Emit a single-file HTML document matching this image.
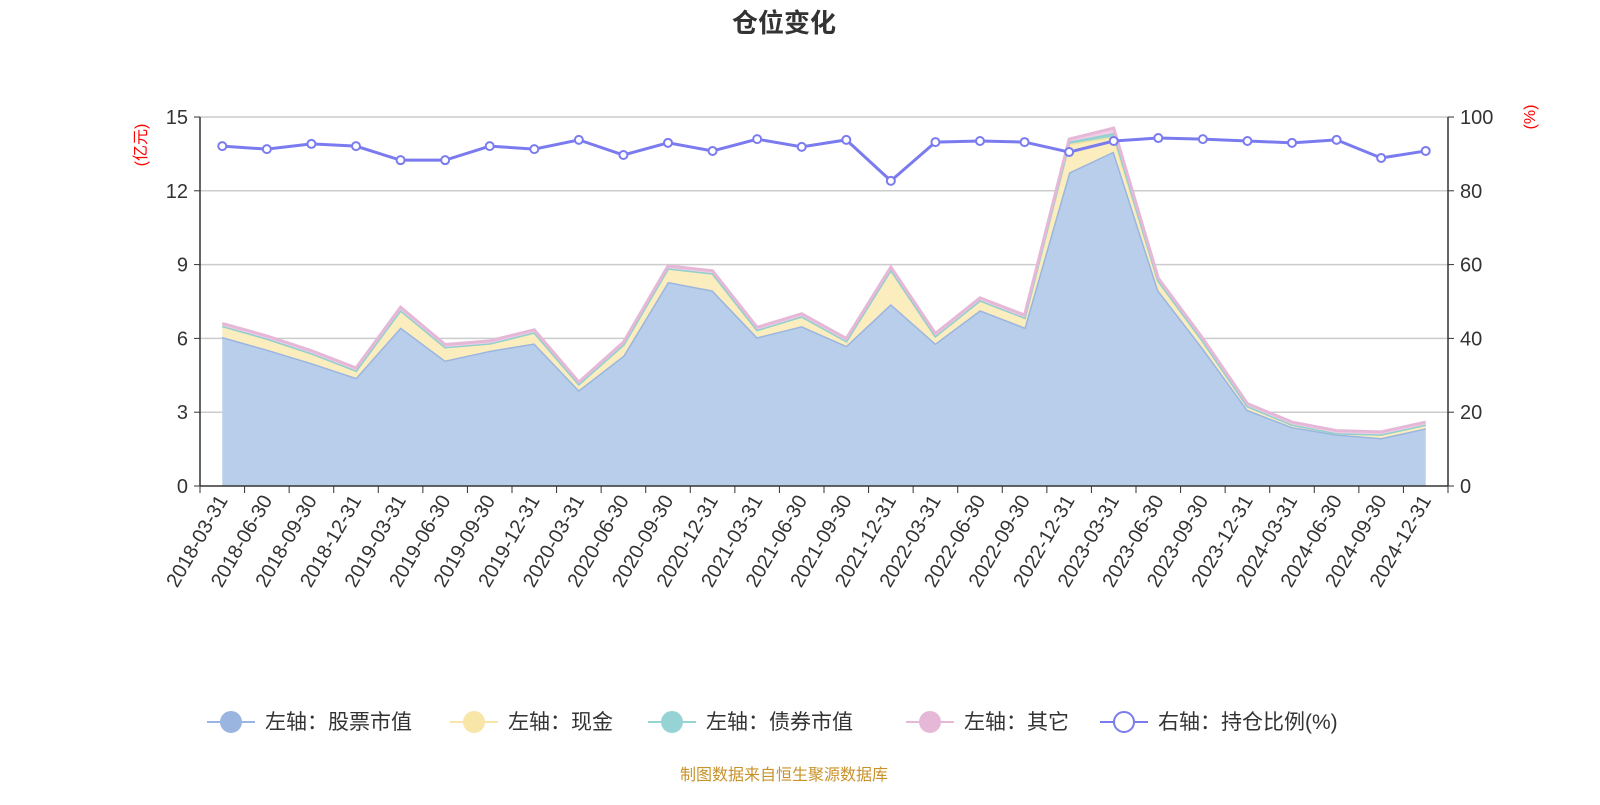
<!DOCTYPE html>
<html><head><meta charset="utf-8"><style>
body{margin:0;background:#fff;}
svg text{font-family:"Liberation Sans","Noto Sans CJK SC",sans-serif;}
</style></head><body>
<svg id="chart" width="1600" height="800" xmlns="http://www.w3.org/2000/svg">
<text x="784" y="32" text-anchor="middle" font-size="26" font-weight="bold" fill="#333">仓位变化</text>
<text transform="translate(146,145) rotate(-90)" text-anchor="middle" font-size="16" fill="red">(亿元)</text>
<text transform="translate(1535,117) rotate(-90)" text-anchor="middle" font-size="16" fill="red">(%)</text>
<g id="grid"></g><g id="areas"></g><g id="axes"></g><g id="ratio"></g>
<g id="legend" font-size="20" fill="#333"></g>
<text x="784" y="780" text-anchor="middle" font-size="16" fill="#c8922a">制图数据来自恒生聚源数据库</text>
</svg>
<script>
const categories=["2018-03-31","2018-06-30","2018-09-30","2018-12-31","2019-03-31","2019-06-30","2019-09-30","2019-12-31","2020-03-31","2020-06-30","2020-09-30","2020-12-31","2021-03-31","2021-06-30","2021-09-30","2021-12-31","2022-03-31","2022-06-30","2022-09-30","2022-12-31","2023-03-31","2023-06-30","2023-09-30","2023-12-31","2024-03-31","2024-06-30","2024-09-30","2024-12-31"];
const stockValues=[6.06,5.55,5.0,4.4,6.45,5.1,5.5,5.8,3.9,5.3,8.3,7.95,6.05,6.5,5.7,7.4,5.8,7.15,6.45,12.75,13.6,7.95,5.6,3.1,2.4,2.1,1.95,2.35];
const cashValues=[0.45,0.45,0.4,0.3,0.7,0.55,0.3,0.45,0.25,0.45,0.55,0.7,0.3,0.4,0.2,1.4,0.3,0.4,0.4,1.15,0.6,0.4,0.3,0.15,0.1,0.05,0.15,0.15];
const bondValues=[0,0,0,0,0,0,0,0,0,0,0,0,0,0,0,0,0,0,0,0.1,0.15,0,0,0,0,0,0,0];
const otherValues=[0.1,0.1,0.1,0.1,0.12,0.1,0.1,0.1,0.08,0.1,0.1,0.1,0.1,0.1,0.1,0.1,0.1,0.1,0.1,0.1,0.2,0.1,0.1,0.1,0.1,0.1,0.1,0.1];
const ratioValues=[92.1,91.3,92.7,92.1,88.3,88.3,92.1,91.3,93.8,89.7,93.0,90.8,94.0,91.9,93.8,82.7,93.2,93.5,93.2,90.5,93.5,94.3,94.0,93.5,93.0,93.8,88.9,90.8];
const leftTicks=[0,3,6,9,12,15];
const rightTicks=[0,20,40,60,80,100];
const NS="http://www.w3.org/2000/svg";
const X0=200,X1=1448,Y0=486,Y1=117;
const band=(X1-X0)/categories.length;
const xs=i=>X0+band*(i+0.5);
const yL=v=>Y0-(Y0-Y1)*v/15;
const yR=v=>Y0-(Y0-Y1)*v/100;
function mk(tag,attrs,parent){const e=document.createElementNS(NS,tag);for(const k in attrs)e.setAttribute(k,attrs[k]);parent.appendChild(e);return e;}
const grid=document.getElementById('grid'),axes=document.getElementById('axes'),areas=document.getElementById('areas'),ratio=document.getElementById('ratio'),legend=document.getElementById('legend');
leftTicks.forEach((t,i)=>{
  if(t>0){const g=mk('line',{x1:X0,x2:X1,y1:yL(t),y2:yL(t),stroke:'#ccc','stroke-width':1.5},grid);
  
  }
  const tl=mk('text',{x:X0-12,y:yL(t)+7,'text-anchor':'end','font-size':20,fill:'#333'},axes);tl.textContent=t;
  
  
  mk('line',{x1:X0-6,x2:X0,y1:yL(t),y2:yL(t),stroke:'#333'},axes);
});
rightTicks.forEach(t=>{
  const tl=mk('text',{x:X1+12,y:yR(t)+7,'font-size':20,fill:'#333'},axes);tl.textContent=t;
  
  
  mk('line',{x1:X1,x2:X1+6,y1:yR(t),y2:yR(t),stroke:'#333'},axes);
});
mk('line',{x1:X0,x2:X0,y1:Y1,y2:Y0,stroke:'#333','stroke-width':1.5},axes);
mk('line',{x1:X1,x2:X1,y1:Y1,y2:Y0,stroke:'#333','stroke-width':1.5},axes);
mk('line',{x1:X0,x2:X1,y1:Y0,y2:Y0,stroke:'#333','stroke-width':1.5},axes);
for(let i=0;i<=categories.length;i++){mk('line',{x1:X0+band*i,x2:X0+band*i,y1:Y0,y2:Y0+7,stroke:'#333'},axes);}
categories.forEach((c,i)=>{
  const t=mk('text',{transform:`translate(${xs(i)+6},${Y0+14}) rotate(-60)`,'text-anchor':'end','font-size':20,fill:'#333'},axes);t.textContent=c;
  
  
});
const series=[[stockValues,'#b8ceeb','#9ab5e0','stock-area'],[cashValues,'#fbedbd','#f5e3a0','cash-area'],[bondValues,'#9ad6d4','#90d0d0','bond-area'],[otherValues,'#f0cde4','#e6b8d8','other-area']];
let base=categories.map(()=>0);
series.forEach(([vals,fill,stroke,name])=>{
  const top=base.map((b,i)=>b+vals[i]);
  let d='M'+top.map((v,i)=>xs(i)+','+yL(v)).join('L');
  d+='L'+base.map((v,i)=>[xs(i),yL(v)]).reverse().map(p=>p.join(',')).join('L')+'Z';
  const a=mk('path',{d:d,fill:fill,stroke:'none'},areas);
  
  
  const l=mk('polyline',{points:top.map((v,i)=>xs(i)+','+yL(v)).join(' '),fill:'none',stroke:stroke,'stroke-width':3},areas);
  
  
  base=top;
});
const rl=mk('polyline',{points:ratioValues.map((v,i)=>xs(i)+','+yR(v)).join(' '),fill:'none',stroke:'#7b7bf0','stroke-width':3},ratio);


ratioValues.forEach((v,i)=>{const c=mk('circle',{cx:xs(i),cy:yR(v),r:4,fill:'#fff',stroke:'#7b7bf0','stroke-width':2},ratio);
  
  });
const legItems=[['左轴：股票市值','#9ab5e0',true,207],['左轴：现金','#f8e5a8',true,450],['左轴：债券市值','#96d3d4',true,648],['左轴：其它','#e6b8d8',true,906],['右轴：持仓比例(%)','#7b7bf0',false,1100]];
legItems.forEach(([txt,col,fillc,x])=>{
  const g=mk('g',{},legend);
  
  
  mk('line',{x1:x,x2:x+48,y1:722,y2:722,stroke:col,'stroke-width':2},g);
  mk('circle',{cx:x+24,cy:722,r:10,fill:fillc?col:'#fff',stroke:col,'stroke-width':2},g);
  const t=mk('text',{x:x+58,y:729,'font-size':21,fill:'#333'},g);t.textContent=txt;
});
</script>
</body></html>
